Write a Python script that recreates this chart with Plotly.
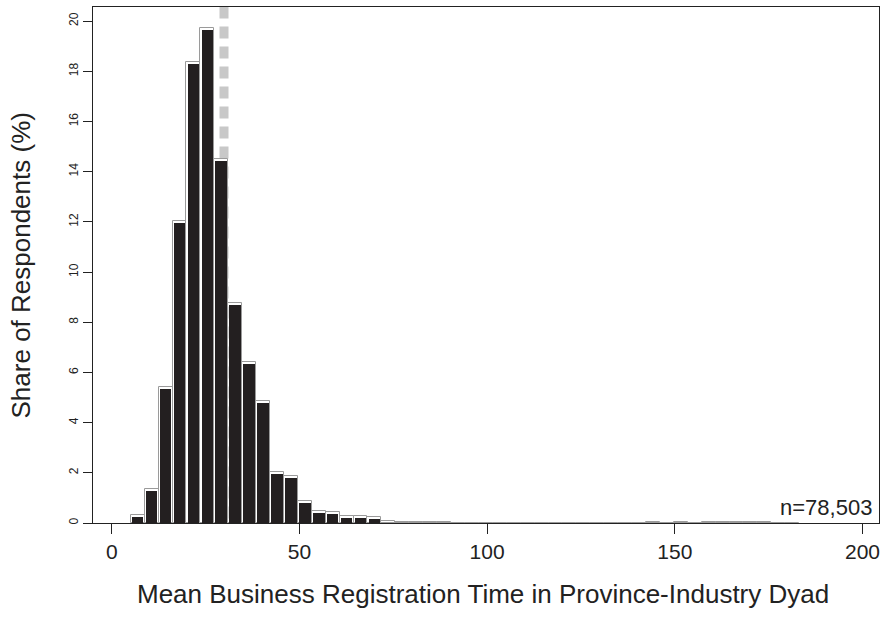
import plotly.graph_objects as go

# ---- data ----
bin_start = 5.05          # left edge of first histogram bin
bin_width = 3.71          # width of each histogram bin
shares = [0.30, 1.37, 5.41, 12.04, 18.35, 19.73, 14.49, 8.75, 6.43, 4.87,
          2.04, 1.88, 0.89, 0.48, 0.43, 0.29, 0.28, 0.22,
          0.06, 0.05, 0.05, 0.04, 0.04, 0.02, 0.02, 0.02, 0.01, 0.01,
          0.01, 0.01, 0.01, 0.01, 0.01, 0.01, 0.01, 0.01, 0.01,
          0.04, 0.01, 0.04, 0.01, 0.05, 0.05, 0.05, 0.05, 0.05, 0.02, 0.02]
mean_time = 29.9
n_label = "n=78,503"
x_ticks = [0, 50, 100, 150, 200]
y_ticks = [0, 2, 4, 6, 8, 10, 12, 14, 16, 18, 20]
x_title = "Mean Business Registration Time in Province-Industry Dyad"
y_title = "Share of Respondents (%)"

centers = [bin_start + bin_width * (i + 0.5) for i in range(len(shares))]

FONT = "Liberation Sans, Arial, Helvetica, sans-serif"
INK = "#222222"
top_inset = 0.08      # black fill sits a little below the outline top
side_inset = 0.31     # black fill inset from bin edges (x units)

fig = go.Figure()
# grey outline of each bin
fig.add_trace(go.Bar(
    x=centers, y=shares, width=bin_width,
    marker=dict(color="rgba(0,0,0,0)", line=dict(color="#9a9a9a", width=1)),
    hoverinfo="skip", showlegend=False))
# black fill, inset
fig.add_trace(go.Bar(
    x=centers, y=[max(s - top_inset, 0) for s in shares],
    width=bin_width - 2 * side_inset,
    marker=dict(color="#231f20", line=dict(width=0)),
    showlegend=False))

fig.add_shape(type="line", xref="x", yref="y",
              x0=mean_time, x1=mean_time, y0=20.58, y1=0,
              line=dict(color="#c8c8c8", width=9, dash="12px,8px"),
              layer="below")

fig.add_annotation(text=n_label, xref="paper", yref="paper",
                   x=1, y=0.03, xanchor="right", yanchor="middle",
                   xshift=-5, showarrow=False,
                   font=dict(family=FONT, size=22, color=INK))
fig.add_annotation(text=x_title, xref="paper", yref="paper",
                   x=0.496, y=0, yanchor="middle", yshift=-71,
                   showarrow=False, font=dict(family=FONT, size=26, color=INK))
fig.add_annotation(text=y_title, xref="paper", yref="paper",
                   x=-0.091, y=0.5, xanchor="center", yanchor="middle",
                   textangle=-90, showarrow=False,
                   font=dict(family=FONT, size=26, color=INK))

fig.update_layout(
    width=883, height=617,
    margin=dict(l=93, r=4, t=7, b=94),
    barmode="overlay", bargap=0,
    plot_bgcolor="white", paper_bgcolor="white",
    font=dict(family=FONT, color=INK),
    xaxis=dict(range=[-5, 204.4], tickvals=x_ticks, ticks="outside",
               ticklen=10, tickcolor=INK, tickwidth=1,
               showline=True, mirror=True, linecolor=INK, linewidth=1,
               showgrid=False, zeroline=False,
               tickfont=dict(family=FONT, size=21, color=INK)),
    yaxis=dict(range=[0, 20.56], tickvals=y_ticks, ticks="outside",
               ticklen=9, tickcolor=INK, tickwidth=1, tickangle=-90,
               showline=True, mirror=True, linecolor=INK, linewidth=1,
               showgrid=False, zeroline=False,
               tickfont=dict(family=FONT, size=12, color=INK)),
)

fig.write_html("out.html",
               config={"displayModeBar": False},
               post_script="document.body.style.margin='0';"
                           "document.body.style.overflow='hidden';")
